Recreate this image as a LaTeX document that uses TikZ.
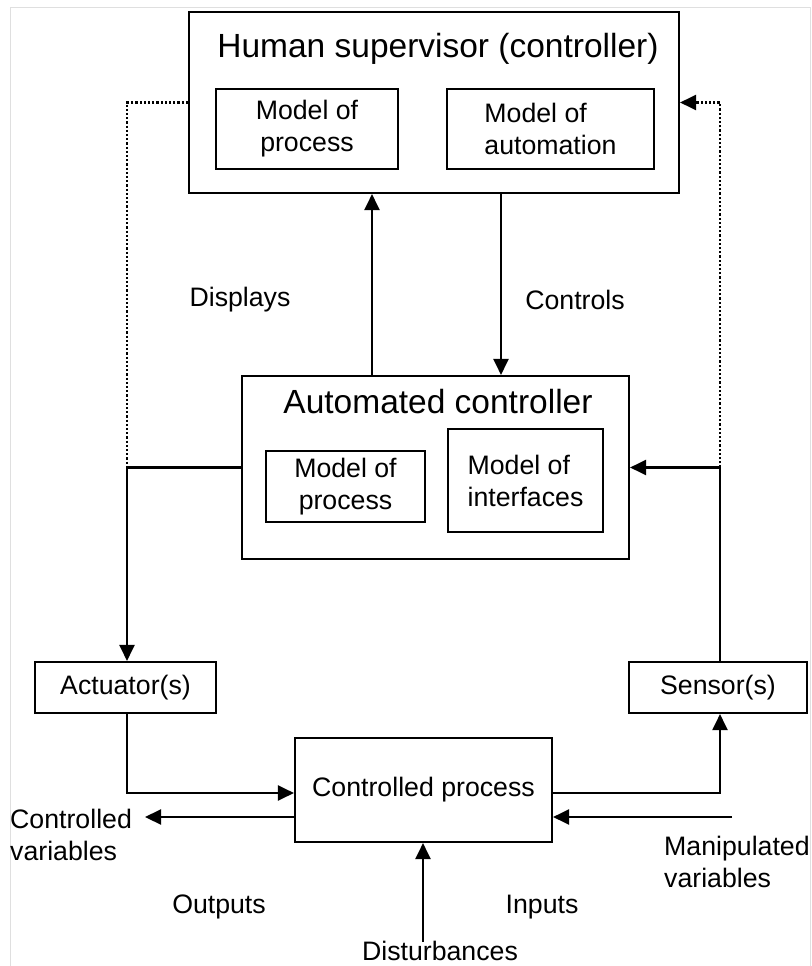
\documentclass[tikz,border=0pt]{standalone}
\usepackage{fontspec}
\setmainfont{Liberation Sans}
\usetikzlibrary{arrows.meta}
\begin{document}
\begin{tikzpicture}[x=1pt,y=-1pt,
  lw/.style={line width=2.1pt},
  box/.style={draw,lw,inner sep=0pt,align=center,font=\smallf},
  lbl/.style={inner sep=0pt,font=\smallf},
  arr/.style={lw,-{Triangle[length=16pt,width=15pt]}},
  dotline/.style={line width=2.2pt,dash pattern=on 2.2pt off 2pt},
]
\newcommand{\smallf}{\fontsize{26.7pt}{32pt}\selectfont}
\newcommand{\bigf}{\fontsize{33.5pt}{40pt}\selectfont}
\useasboundingbox (0,0) rectangle (811,966);
\fill[white] (0,0) rectangle (811,966);
% faint frame
\draw[gray!25,line width=1pt] (10,980) -- (10,8) -- (810,8) -- (810,980);

% Human supervisor
\node[box,minimum width=490pt,minimum height=181pt] (hs) at (434,102.5) {};
\node[anchor=base,inner sep=0pt,font=\bigf] (hst) at (438,57) {Human supervisor (controller)};
\node[box,minimum width=182pt,minimum height=80pt] (hsp) at (307,129) {Model of\\process};
\node[box,minimum width=207pt,minimum height=80pt,align=left] (hsa) at (550.5,129) {Model of\\automation};

% Automated controller
\node[box,minimum width=387pt,minimum height=183pt] (ac) at (435.5,467.5) {};
\node[anchor=base,inner sep=0pt,font=\bigf] (act) at (438,413) {Automated controller};
\node[box,minimum width=159pt,minimum height=71pt] (acp) at (345.5,486.5) {Model of\\process};
\node[box,minimum width=155pt,minimum height=103pt,align=left] (aci) at (525.5,480.5) {Model of\\interfaces};

% Actuator, sensor, process
\node[box,minimum width=181pt,minimum height=51pt] (actu) at (125.5,687.5) {Actuator(s)};
\node[box,minimum width=178pt,minimum height=51pt] (sen) at (718,687.5) {Sensor(s)};
\node[box,minimum width=257pt,minimum height=104pt] (cp) at (423.5,790) {Controlled process};

% labels
\node[lbl] (ldisp) at (240,300) {Displays};
\node[lbl] (lctrl) at (575,300) {Controls};
\node[lbl,anchor=base west,align=left] (lcv) at (10,860) {Controlled\\variables};
\node[lbl,anchor=base west,align=left] (lmv) at (664,887) {Manipulated\\variables};
\node[lbl] (lout) at (219,907) {Outputs};
\node[lbl] (lin) at (542,907) {Inputs};
\node[lbl,anchor=base] (ldist) at (440,960) {Disturbances};

% coordinates
\coordinate (xl) at (127,0);
\coordinate (xr) at (720,0);
\coordinate (xd) at (372,0);
\coordinate (xc) at (501,0);
\coordinate (y1) at (0,793);
\coordinate (y2) at (0,817);
\coordinate (cvend) at (145,817);
\coordinate (mvstart) at (732,817);
\coordinate (dstart) at (423,942);

% connectors
\draw[dotline] (hs.west) -- (hs.west -| xl) -- (ac.west -| xl);
\draw[lw] (ac.west) -- (ac.west -| xl);
\draw[arr] (ac.west -| xl) -- (actu.north -| xl);
\draw[arr] (ac.north -| xd) -- (hs.south -| xd);
\draw[arr] (hs.south -| xc) -- (ac.north -| xc);
\draw[dotline,-{Triangle[length=16pt,width=15pt]}] (ac.east -| xr) -- (hs.east -| xr) -- (hs.east);
\draw[arr] (sen.north -| xr) -- (ac.east -| xr) -- (ac.east);
\draw[arr] (actu.south -| xl) -- (y1 -| xl) -- (cp.west |- y1);
\draw[arr] (cp.east |- y1) -- (y1 -| xr) -- (sen.south -| xr);
\draw[arr] (cp.west |- y2) -- (cvend);
\draw[arr] (mvstart) -- (cp.east |- y2);
\draw[arr] (dstart) -- (dstart |- cp.south);
\end{tikzpicture}
\end{document}
